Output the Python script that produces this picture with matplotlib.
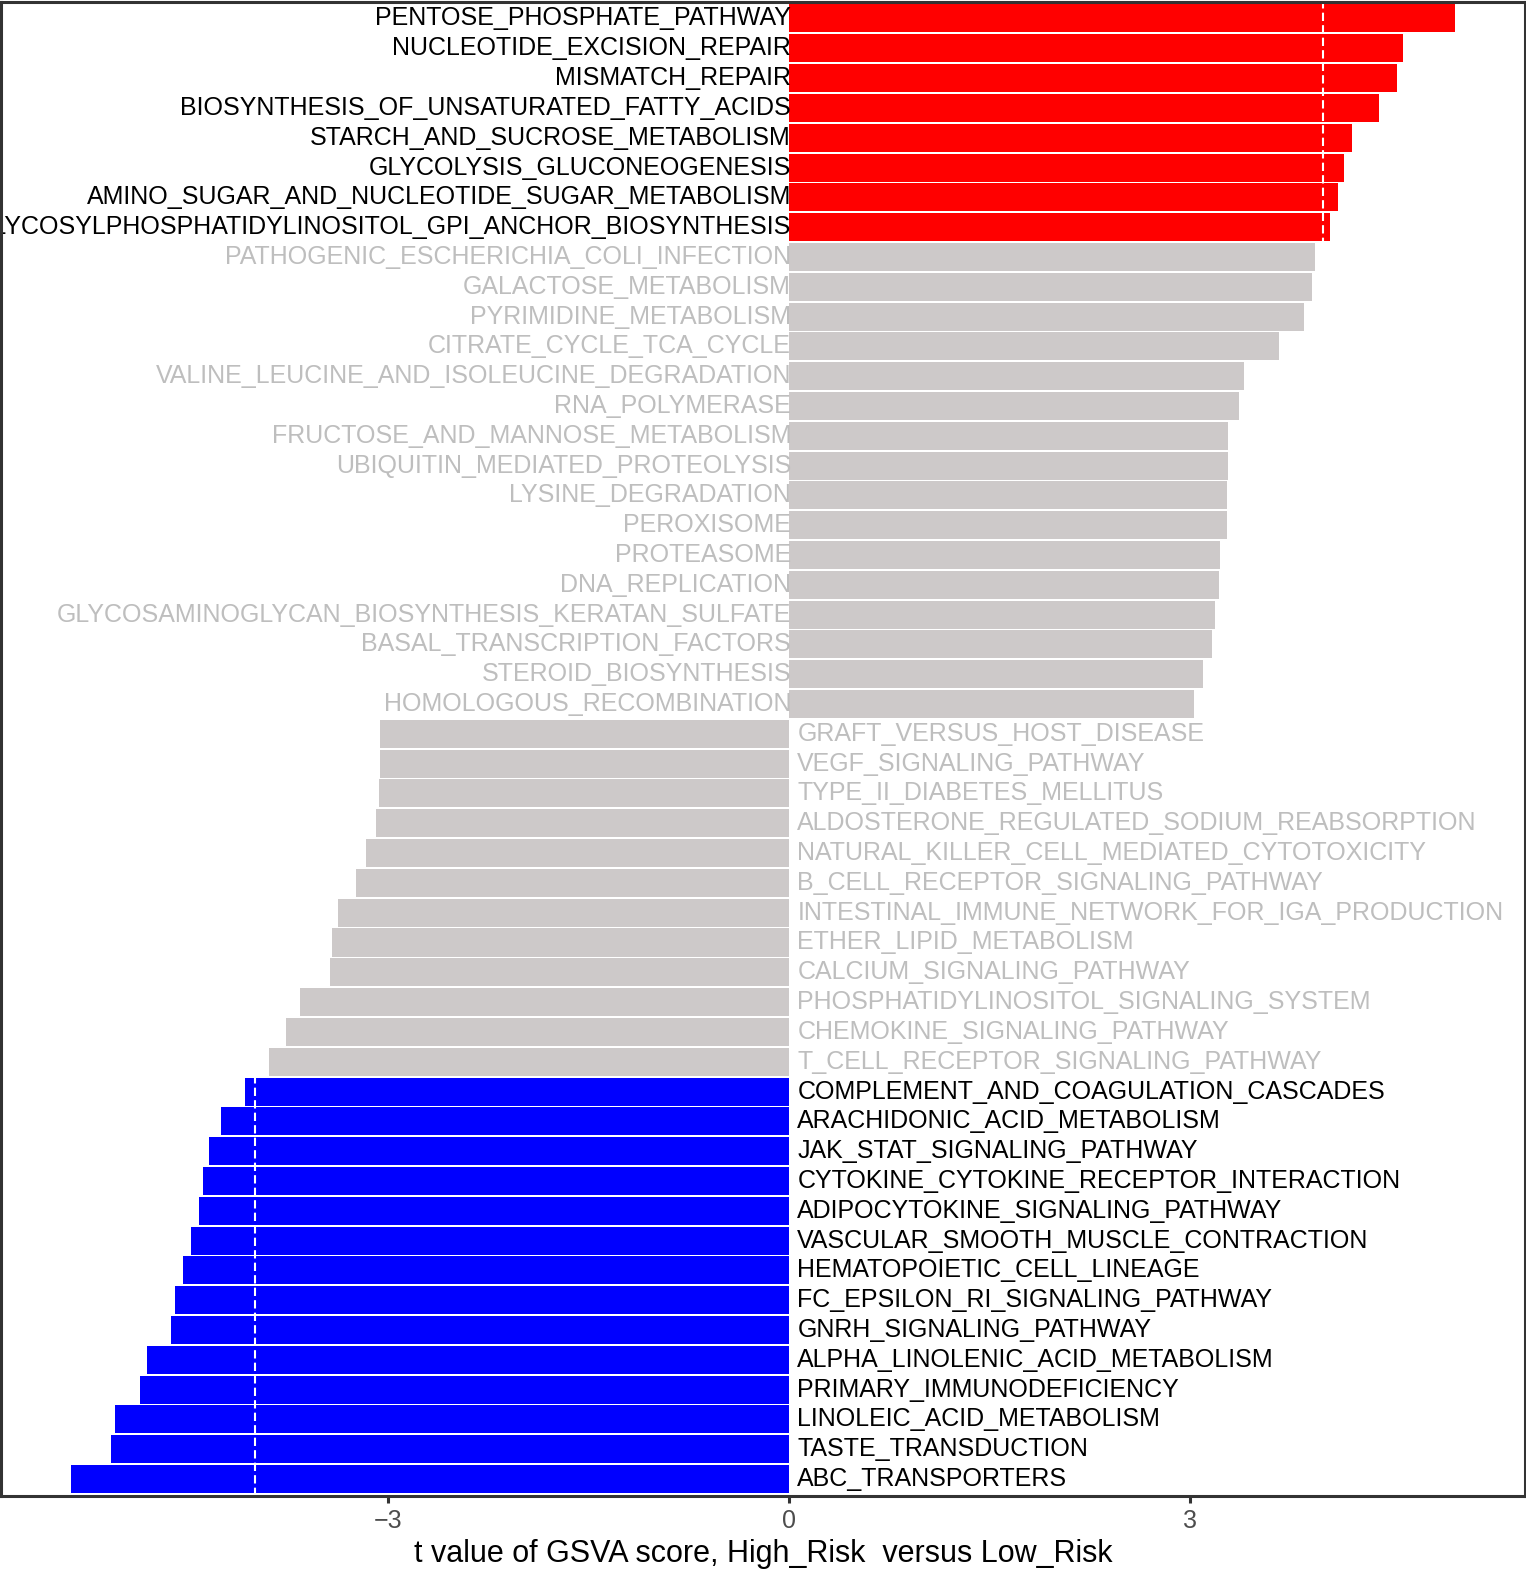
import matplotlib
matplotlib.use("Agg")
import matplotlib.pyplot as plt
import numpy as np
from matplotlib.transforms import offset_copy

pathways = [
    "PENTOSE_PHOSPHATE_PATHWAY",
    "NUCLEOTIDE_EXCISION_REPAIR",
    "MISMATCH_REPAIR",
    "BIOSYNTHESIS_OF_UNSATURATED_FATTY_ACIDS",
    "STARCH_AND_SUCROSE_METABOLISM",
    "GLYCOLYSIS_GLUCONEOGENESIS",
    "AMINO_SUGAR_AND_NUCLEOTIDE_SUGAR_METABOLISM",
    "GLYCOSYLPHOSPHATIDYLINOSITOL_GPI_ANCHOR_BIOSYNTHESIS",
    "PATHOGENIC_ESCHERICHIA_COLI_INFECTION",
    "GALACTOSE_METABOLISM",
    "PYRIMIDINE_METABOLISM",
    "CITRATE_CYCLE_TCA_CYCLE",
    "VALINE_LEUCINE_AND_ISOLEUCINE_DEGRADATION",
    "RNA_POLYMERASE",
    "FRUCTOSE_AND_MANNOSE_METABOLISM",
    "UBIQUITIN_MEDIATED_PROTEOLYSIS",
    "LYSINE_DEGRADATION",
    "PEROXISOME",
    "PROTEASOME",
    "DNA_REPLICATION",
    "GLYCOSAMINOGLYCAN_BIOSYNTHESIS_KERATAN_SULFATE",
    "BASAL_TRANSCRIPTION_FACTORS",
    "STEROID_BIOSYNTHESIS",
    "HOMOLOGOUS_RECOMBINATION",
    "GRAFT_VERSUS_HOST_DISEASE",
    "VEGF_SIGNALING_PATHWAY",
    "TYPE_II_DIABETES_MELLITUS",
    "ALDOSTERONE_REGULATED_SODIUM_REABSORPTION",
    "NATURAL_KILLER_CELL_MEDIATED_CYTOTOXICITY",
    "B_CELL_RECEPTOR_SIGNALING_PATHWAY",
    "INTESTINAL_IMMUNE_NETWORK_FOR_IGA_PRODUCTION",
    "ETHER_LIPID_METABOLISM",
    "CALCIUM_SIGNALING_PATHWAY",
    "PHOSPHATIDYLINOSITOL_SIGNALING_SYSTEM",
    "CHEMOKINE_SIGNALING_PATHWAY",
    "T_CELL_RECEPTOR_SIGNALING_PATHWAY",
    "COMPLEMENT_AND_COAGULATION_CASCADES",
    "ARACHIDONIC_ACID_METABOLISM",
    "JAK_STAT_SIGNALING_PATHWAY",
    "CYTOKINE_CYTOKINE_RECEPTOR_INTERACTION",
    "ADIPOCYTOKINE_SIGNALING_PATHWAY",
    "VASCULAR_SMOOTH_MUSCLE_CONTRACTION",
    "HEMATOPOIETIC_CELL_LINEAGE",
    "FC_EPSILON_RI_SIGNALING_PATHWAY",
    "GNRH_SIGNALING_PATHWAY",
    "ALPHA_LINOLENIC_ACID_METABOLISM",
    "PRIMARY_IMMUNODEFICIENCY",
    "LINOLEIC_ACID_METABOLISM",
    "TASTE_TRANSDUCTION",
    "ABC_TRANSPORTERS",
]

t_values = [
    4.99, 4.60, 4.55, 4.42, 4.22, 4.16, 4.11, 4.05,
    3.94, 3.92, 3.86, 3.67, 3.41, 3.37, 3.29, 3.29, 3.28, 3.28,
    3.23, 3.22, 3.19, 3.17, 3.10, 3.03,
    -3.06, -3.06, -3.07, -3.09, -3.17, -3.24, -3.38, -3.42, -3.44,
    -3.66, -3.77, -3.89,
    -4.07, -4.25, -4.34, -4.39, -4.42, -4.48, -4.54, -4.60, -4.63,
    -4.81, -4.86, -5.05, -5.08, -5.38,
]

cutoff = 4.0
x_ticks = [-3, 0, 3]
x_tick_labels = ["\u22123", "0", "3"]
x_label = "t value of GSVA score, High_Risk  versus Low_Risk"

bar_up, bar_down, bar_ns = "#FF0000", "#0000FF", "#CDC9C9"
txt_sig, txt_ns = "black", "#BEBEBE"

plt.rcParams['font.family'] = ['Liberation Sans', 'DejaVu Sans']

W, H = 1526, 1569
L, R, T, B = 1.3, 1524.5, 1.5, 1496.0
fig = plt.figure(figsize=(W / 100, H / 100), dpi=100)
ax = fig.add_axes([L / W, (H - B) / H, (R - L) / W, (B - T) / H])

n = len(pathways)
y = np.arange(n)[::-1]
vals = np.array(t_values)
colors = [bar_up if v > cutoff else (bar_down if v < -cutoff else bar_ns) for v in vals]
ax.barh(y, vals, height=0.94, color=colors, zorder=2)

for v in (-cutoff, cutoff):
    ax.axvline(v, color="white", lw=1.5, ls=(0, (4, 2)), zorder=3)

for yi, v, name in zip(y, vals, pathways):
    tc = txt_sig if abs(v) > cutoff else txt_ns
    if v > 0:
        tr = offset_copy(ax.transData, fig=fig, x=1.5, y=0, units='points')
        ax.text(0, yi, name, ha="right", va="center", fontsize=18, color=tc,
                transform=tr, clip_on=False, zorder=4)
    else:
        tr = offset_copy(ax.transData, fig=fig, x=6.0, y=0, units='points')
        ax.text(0, yi, name, ha="left", va="center", fontsize=18, color=tc,
                transform=tr, clip_on=False, zorder=4)

rng = vals.max() - vals.min()
ax.set_xlim(vals.min() - 0.05 * rng, vals.max() + 0.05 * rng)
ax.set_ylim(-0.57, n - 1 + 0.57)
ax.set_yticks([])
ax.set_xticks(x_ticks)
ax.set_xticklabels(x_tick_labels)
ax.tick_params(axis="x", length=5, width=2.2, color="#333333", labelcolor="#4D4D4D",
               labelsize=18, pad=4)
for s in ax.spines.values():
    s.set_color("#333333")
    s.set_linewidth(2.2)
    s.set_zorder(6)
ax.set_xlabel(x_label, fontsize=22, color="black", labelpad=5)

fig.savefig("out.png", dpi=100)
